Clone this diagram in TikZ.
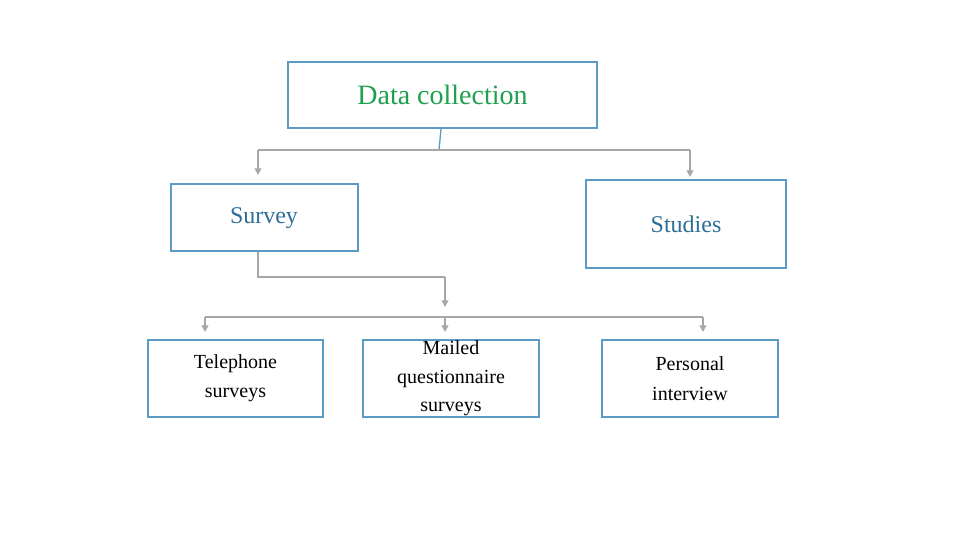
\documentclass[tikz,border=0pt]{standalone}
\usepackage{fontspec}
\setmainfont{Liberation Serif}
\usetikzlibrary{arrows.meta}
\definecolor{bx}{HTML}{5B9BC5}
\definecolor{gr}{HTML}{A6A6A6}
\definecolor{tg}{HTML}{1FA050}
\definecolor{tb}{HTML}{2E6E96}
\begin{document}
\begin{tikzpicture}[x=0.75pt,y=-0.75pt,
  box/.style={draw=bx,line width=1.5pt,inner sep=0pt,align=center},
  con/.style={draw=gr,line width=2pt,-{Triangle[length=5pt,width=5pt]}},
  lin/.style={draw=gr,line width=2pt}]
\useasboundingbox (0,0) rectangle (960,540);
\node[box,minimum width=309*0.75pt,minimum height=66*0.75pt,text=tg,font=\fontsize{21pt}{25pt}\selectfont] (dc) at (442.5,95) {Data collection};
\node[box,minimum width=187*0.75pt,minimum height=67*0.75pt] (sv) at (264.5,217.5) {};
\node[text=tb,font=\fontsize{18pt}{22pt}\selectfont] (svt) at (264,218) {Survey};
\node[box,minimum width=200*0.75pt,minimum height=88*0.75pt,text=tb,font=\fontsize{18pt}{22pt}\selectfont] (st) at (686,224) {Studies};
\node[box,minimum width=175*0.75pt,minimum height=77*0.75pt,font=\fontsize{15pt}{22pt}\selectfont] (tel) at (235.5,378.5) {Telephone\\surveys};
\node[box,minimum width=176*0.75pt,minimum height=77*0.75pt,font=\fontsize{15pt}{21.5pt}\selectfont] (ml) at (451,378.5) {Mailed\\questionnaire\\surveys};
\node[box,minimum width=176*0.75pt,minimum height=77*0.75pt,font=\fontsize{15pt}{22pt}\selectfont] (pi) at (690,378.5) {Personal\\interview};
\coordinate (j1) at (439,150);
\coordinate (a1) at (258,150);
\coordinate (a2) at (690,150);
\coordinate (b1) at (258,277);
\coordinate (b2) at (445,277);
\coordinate (j2) at (445,317);
\coordinate (c1) at (205,317);
\coordinate (c2) at (703,317);
\draw[bx,line width=1pt] (dc.south -| 441,0) -- (j1);
\draw[lin] (a1) -- (a2);
\draw[con] (a1) -- (a1 |- 0,175);
\draw[con] (a2) -- (a2 |- 0,177);
\draw[lin] (sv.south -| b1) -- (b1) -- (b2);
\draw[con] (b2) -- (445,307);
\draw[lin] (c1) -- (c2);
\draw[con] (c1) -- (205,332);
\draw[con] (j2) -- (445,332);
\draw[con] (c2) -- (703,332);
\end{tikzpicture}
\end{document}
